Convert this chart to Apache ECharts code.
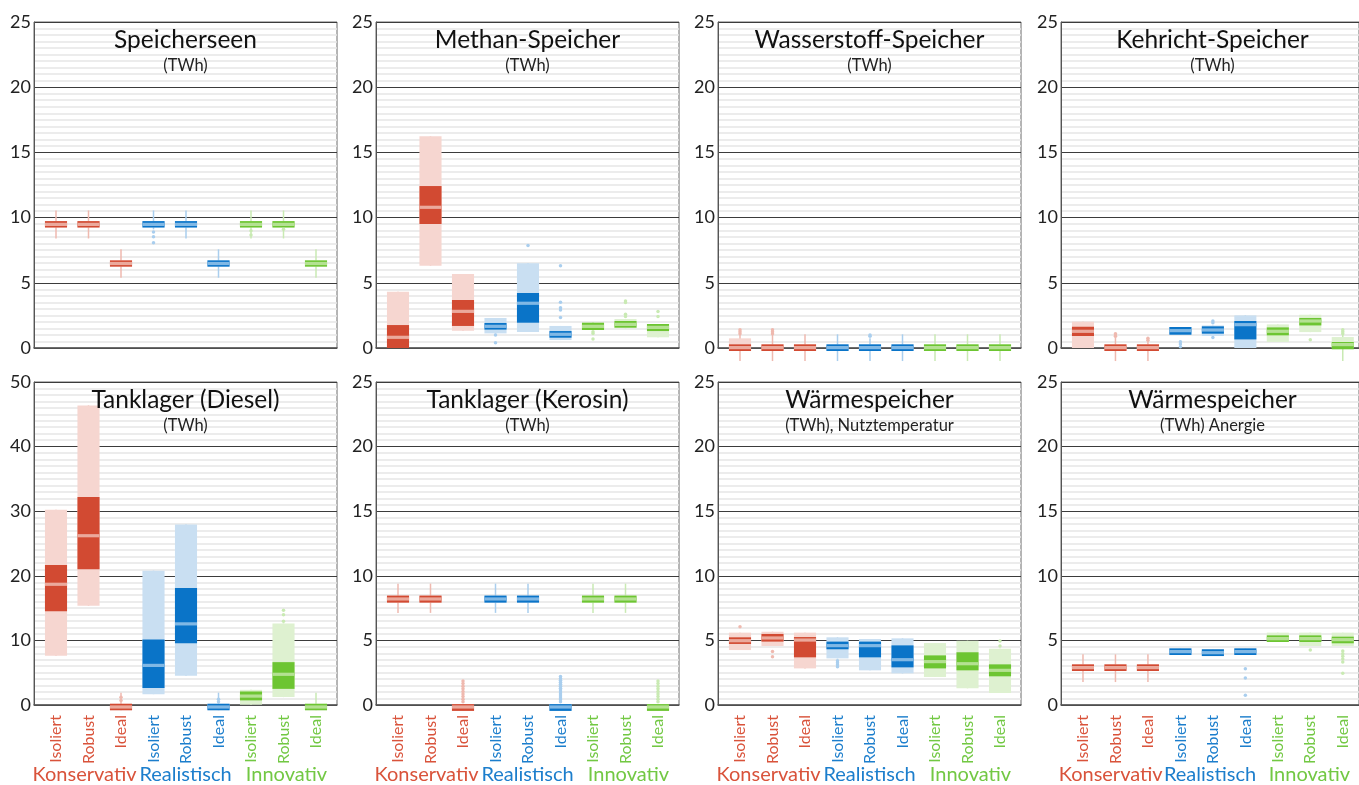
<!DOCTYPE html>
<html>
<head>
<meta charset="utf-8">
<script src="https://cdn.jsdelivr.net/npm/echarts@6/dist/echarts.min.js"></script>
<style>
html,body{margin:0;padding:0;background:#fff;}
#chart{width:1359px;height:785px;}
</style>
</head>
<body>
<div id="chart"></div>
<script>
// ---------- DATA ----------
const categories = ['Isoliert','Robust','Ideal','Isoliert','Robust','Ideal','Isoliert','Robust','Ideal'];
const groups = ['Konservativ','Realistisch','Innovativ'];
const titles = ['Speicherseen','Methan-Speicher','Wasserstoff-Speicher','Kehricht-Speicher',
                'Tanklager (Diesel)','Tanklager (Kerosin)','Wärmespeicher','Wärmespeicher'];
const subtitles = ['(TWh)','(TWh)','(TWh)','(TWh)','(TWh)','(TWh)','(TWh), Nutztemperatur','(TWh) Anergie'];
const yMax = [25,25,25,25,50,25,25,25];
const yStep = [5,5,5,5,10,5,5,5];

// rows: [whiskerLow, rangeLow, q1, median, q3, rangeHigh, whiskerHigh]
const speicherseen = [
  [8.4, 9.24, 9.24, 9.48, 9.73, 9.73, 10.55],
  [8.4, 9.24, 9.24, 9.48, 9.73, 9.73, 10.55],
  [5.39, 6.24, 6.24, 6.48, 6.72, 6.72, 7.57],
  [9.1, 9.24, 9.24, 9.48, 9.73, 9.73, 10.55],
  [8.4, 9.24, 9.24, 9.48, 9.73, 9.73, 10.55],
  [5.39, 6.24, 6.24, 6.48, 6.72, 6.72, 7.57],
  [8.4, 9.24, 9.24, 9.48, 9.73, 9.73, 10.55],
  [8.4, 9.24, 9.24, 9.48, 9.73, 9.73, 10.55],
  [5.39, 6.24, 6.24, 6.48, 6.72, 6.72, 7.57]
];
const speicherseenOut = [[3,8.9],[3,8.54],[3,8.07],[6,9.0],[6,8.67],[7,9.1]];

const methan = [
  [0, 0, 0, 0.82, 1.76, 4.32, 4.32],
  [6.31, 6.31, 9.51, 10.79, 12.42, 16.23, 16.23],
  [1.33, 1.33, 1.69, 2.81, 3.68, 5.67, 5.67],
  [1.12, 1.12, 1.41, 1.66, 1.92, 2.30, 2.30],
  [1.23, 1.23, 1.94, 3.43, 4.22, 6.49, 6.49],
  [0.61, 0.61, 0.79, 1.05, 1.30, 1.69, 1.69],
  [1.38, 1.38, 1.38, 1.66, 1.94, 1.94, 1.99],
  [1.51, 1.51, 1.56, 1.81, 2.07, 2.22, 2.22],
  [0.82, 0.82, 1.30, 1.58, 1.84, 1.84, 1.84]
];
const methanOut = [[3,1.0],[3,0.41],[4,7.87],[5,6.31],[5,3.5],[5,3.09],[5,2.91],[5,2.33],
  [6,1.25],[6,1.12],[6,0.69],[7,3.6],[7,3.48],[7,2.58],[7,2.41],[8,2.79],[8,2.41]];

const wasserstoff = [
  [-1.0, 0, -0.23, 0.03, 0.28, 0.74, 1.0],
  [-1.0, -0.23, -0.23, 0.03, 0.28, 0.28, 1.0],
  [-1.0, -0.23, -0.23, 0.03, 0.28, 0.28, 1.05],
  [-1.0, -0.23, -0.23, 0.03, 0.28, 0.28, 1.05],
  [-1.0, -0.23, -0.23, 0.03, 0.28, 0.28, 0.75],
  [-1.0, -0.23, -0.23, 0.03, 0.28, 0.28, 1.05],
  [-1.0, -0.23, -0.23, 0.03, 0.28, 0.28, 1.05],
  [-1.0, -0.23, -0.23, 0.03, 0.28, 0.28, 1.05],
  [-1.0, -0.23, -0.23, 0.03, 0.28, 0.28, 1.05]
];
const wasserstoffOut = [[0,1.1],[0,1.25],[0,1.4],[1,1.1],[1,1.25],[1,1.4],[4,0.9],[4,1.0]];

const kehricht = [
  [0, 0, 0.92, 1.28, 1.63, 2.02, 2.02],
  [-1.0, -0.23, -0.23, 0.03, 0.28, 0.28, 1.17],
  [-1.0, -0.23, -0.23, 0.03, 0.28, 0.28, 0.8],
  [1.02, 1.02, 1.02, 1.33, 1.61, 1.61, 1.61],
  [0.92, 0.92, 1.10, 1.38, 1.66, 1.73, 1.73],
  [0, 0, 0.66, 1.79, 2.07, 2.5, 2.5],
  [0.46, 0.46, 0.97, 1.28, 1.58, 1.81, 1.81],
  [1.22, 1.22, 1.73, 2.07, 2.3, 2.55, 2.55],
  [-1.0, 0, -0.1, 0.26, 0.46, 0.84, 1.43]
];
const kehrichtOut = [[1,0.9],[1,1.0],[1,1.1],[2,0.6],[2,0.75],[3,0.48],[3,0.3],[3,0.1],
  [4,2.07],[4,1.94],[4,0.8],[7,0.64],[8,1.1],[8,1.25],[8,1.4]];

const diesel = [
  [7.87, 7.87, 14.72, 18.88, 21.83, 30.36, 30.36],
  [15.58, 15.58, 21.2, 26.35, 32.3, 46.4, 46.4],
  [-0.5, -0.5, -0.5, 0, 0.5, 0.5, 2.2],
  [1.98, 1.98, 2.94, 6.4, 10.4, 20.96, 20.96],
  [4.82, 4.82, 9.8, 12.79, 18.32, 28.07, 28.07],
  [-0.5, -0.5, -0.5, 0, 0.5, 0.5, 2.2],
  [0.36, 0.36, 1.02, 1.68, 2.39, 2.64, 2.64],
  [1.52, 1.52, 2.79, 5.03, 6.9, 12.84, 12.84],
  [-0.5, -0.5, -0.5, 0, 0.5, 0.5, 2.2]
];
const dieselOut = [[2,1.0],[2,1.5],[5,0.8],[5,1.2],[7,13.2],[7,14.2],[7,14.87]];

const kerosin = [
  [7.24, 8.03, 8.03, 8.31, 8.57, 8.57, 9.49],
  [7.24, 8.03, 8.03, 8.31, 8.57, 8.57, 9.49],
  [-0.3, -0.3, -0.3, 0, 0.22, 0.22, 0.22],
  [7.24, 8.03, 8.03, 8.31, 8.57, 8.57, 9.49],
  [7.24, 8.03, 8.03, 8.31, 8.57, 8.57, 9.49],
  [-0.3, -0.3, -0.3, 0, 0.22, 0.22, 0.22],
  [7.24, 8.03, 8.03, 8.31, 8.57, 8.57, 9.49],
  [7.24, 8.03, 8.03, 8.31, 8.57, 8.57, 9.49],
  [-0.3, -0.3, -0.3, 0, 0.22, 0.22, 0.22]
];
const kerosinOut = [
  [2,0.4],[2,0.6],[2,0.8],[2,1.0],[2,1.2],[2,1.4],[2,1.6],[2,1.8],[2,2.0],
  [5,0.4],[5,0.55],[5,0.7],[5,0.85],[5,1.0],[5,1.15],[5,1.3],[5,1.45],[5,1.6],[5,1.75],[5,1.9],[5,2.05],[5,2.2],[5,2.35],
  [8,0.4],[8,0.6],[8,0.8],[8,1.0],[8,1.2],[8,1.4],[8,1.6],[8,1.8],[8,2.0]
];

const waermeNutz = [
  [4.38, 4.38, 4.85, 5.1, 5.36, 5.72, 5.72],
  [4.69, 4.69, 5.03, 5.31, 5.62, 5.79, 5.79],
  [2.97, 2.97, 3.82, 5.15, 5.38, 5.72, 5.72],
  [3.74, 3.74, 4.44, 4.72, 5.03, 5.36, 5.36],
  [2.82, 2.82, 3.82, 4.72, 5.03, 5.23, 5.23],
  [2.59, 2.59, 3.05, 3.64, 4.74, 5.28, 5.28],
  [2.31, 2.31, 2.97, 3.49, 3.97, 4.92, 4.92],
  [1.44, 1.44, 2.82, 3.33, 4.21, 5.1, 5.1],
  [1.08, 1.08, 2.36, 2.82, 3.28, 4.49, 4.49]
];
const waermeNutzOut = [[0,6.18],[1,4.26],[1,3.87],[3,3.55],[3,3.4],[3,3.25],[3,3.1],[8,5.08],[8,4.69]];

const waermeAnergie = [
  [1.92, 2.77, 2.77, 3.03, 3.28, 3.28, 4.05],
  [1.92, 2.77, 2.77, 3.03, 3.28, 3.28, 4.05],
  [1.92, 2.77, 2.77, 3.03, 3.28, 3.28, 4.05],
  [4.0, 4.0, 4.0, 4.26, 4.51, 4.51, 4.51],
  [3.92, 3.92, 3.92, 4.18, 4.44, 4.44, 4.44],
  [4.0, 4.0, 4.0, 4.26, 4.51, 4.51, 4.51],
  [5.0, 5.0, 5.0, 5.26, 5.51, 5.72, 5.72],
  [4.69, 4.69, 5.0, 5.26, 5.51, 5.72, 5.72],
  [4.69, 4.69, 4.9, 5.18, 5.41, 5.72, 5.72]
];
const waermeAnergieOut = [[5,2.95],[5,2.23],[5,0.9],[7,4.38],[8,4.31],[8,4.1],[8,3.9],[8,3.7],[8,3.46],[8,2.59]];

const panelData = [speicherseen, methan, wasserstoff, kehricht, diesel, kerosin, waermeNutz, waermeAnergie];
const panelOut = [speicherseenOut, methanOut, wasserstoffOut, kehrichtOut, dieselOut, kerosinOut, waermeNutzOut, waermeAnergieOut];

// ---------- STYLE ----------
const PAL = [
  {dark:'#D24A32', light:'#F6D6D0', med:'#EBA99C', whisk:'#EFB9AF', text:'#D9533B'},
  {dark:'#0A74C8', light:'#C9DFF2', med:'#80B8E5', whisk:'#A9CEEE', text:'#1C7ECC'},
  {dark:'#6DC532', light:'#DEF1D0', med:'#B4E192', whisk:'#C9EAB3', text:'#72C843'}
];
const FONT = 'Lato, "Open Sans", sans-serif';
const LEFTS = [34, 376, 718, 1061];
const TOPS = [22, 382];
const HEIGHTS = [326, 325];
const W = 303;

const chart = echarts.init(document.getElementById('chart'), null, {renderer:'canvas'});

function renderItem(params, api) {
  const i = api.value(0);
  const pal = PAL[Math.floor(i / 3)];
  const bw = api.size([1, 0])[0] * 0.68;
  const cx = api.coord([i, 0])[0];
  const y = v => api.coord([i, v])[1];
  const wLo = api.value(1), rLo = api.value(2), q1 = api.value(3), med = api.value(4),
        q3 = api.value(5), rHi = api.value(6), wHi = api.value(7);
  const ch = [];
  if (wHi > wLo) ch.push({type:'line', shape:{x1:cx, y1:y(wLo), x2:cx, y2:y(wHi)},
      style:{stroke:pal.whisk, lineWidth:1.5}});
  if (rHi > rLo) ch.push({type:'rect', shape:{x:cx-bw/2, y:y(rHi), width:bw, height:y(rLo)-y(rHi)},
      style:{fill:pal.light}});
  ch.push({type:'rect', shape:{x:cx-bw/2, y:y(q3), width:bw, height:Math.max(1, y(q1)-y(q3))},
      style:{fill:pal.dark}});
  ch.push({type:'rect', shape:{x:cx-bw/2, y:y(med)-1.6, width:bw, height:3.2}, style:{fill:pal.med}});
  return {type:'group', children: ch};
}

const grid = [], xAxis = [], yAxis = [], series = [], graphic = [];
for (let p = 0; p < 8; p++) {
  const row = Math.floor(p / 4), col = p % 4;
  const left = LEFTS[col], top = TOPS[row], h = HEIGHTS[row];
  grid.push({left:left, top:top, width:W, height:h, show:true, borderColor:'#6a6a6a', borderWidth:1, backgroundColor:'#fff', containLabel:false});
  grid.push({left:left + 5.75, top:top, width:292.5, height:h, containLabel:false});
  xAxis.push({type:'category', gridIndex:2*p, data:groups,
    axisTick:{show:false}, axisLine:{lineStyle:{color:'#555', width:1.5}},
    splitLine:{show:false},
    axisLabel:{show: row === 1, margin:60, fontSize:20, fontFamily:FONT, interval:0,
      color:(v, idx) => PAL[idx].text}});
  xAxis.push({type:'category', gridIndex:2*p+1, data:categories,
    axisTick:{show:false}, axisLine:{show:false}, splitLine:{show:false},
    axisLabel:{show: row === 1, rotate:90, margin:8, fontSize:16, fontFamily:FONT, interval:0,
      color:(v, idx) => PAL[Math.floor(idx / 3)].text}});
  yAxis.push({type:'value', gridIndex:2*p, min:0, max:yMax[p], interval:yStep[p],
    axisLine:{show:true, lineStyle:{color:'#555', width:1}}, axisTick:{show:false},
    axisLabel:{fontSize:18, fontFamily:FONT, color:'#222', margin:3},
    splitLine:{show:true, lineStyle:{color:'#3c3c3c', width:1}},
    minorTick:{show:false, splitNumber:10},
    minorSplitLine:{show:true, lineStyle:{color:'#e6e6e6', width:1.5}}});
  yAxis.push({type:'value', gridIndex:2*p+1, min:0, max:yMax[p], interval:yStep[p], show:false,
    splitLine:{show:false}});
  series.push({type:'custom', xAxisIndex:2*p+1, yAxisIndex:2*p+1, renderItem:renderItem, clip:false, z:3,
    data: panelData[p].map((r, i) => [i].concat(r))});
  series.push({type:'scatter', xAxisIndex:2*p+1, yAxisIndex:2*p+1, symbolSize:3.5, z:4, silent:true,
    itemStyle:{color: prm => PAL[Math.floor(prm.data[0] / 3)].whisk, opacity:1},
    data: panelOut[p]});
  const cxm = left + W / 2;
  graphic.push({type:'text', x:cxm, y:top + 18, z:10,
    style:{text:titles[p], font:'24.5px ' + FONT, fill:'#111', textAlign:'center', textVerticalAlign:'middle'}});
  graphic.push({type:'text', x:cxm, y:top + 44, z:10,
    style:{text:subtitles[p], font:'16.5px ' + FONT, fill:'#222', textAlign:'center', textVerticalAlign:'middle'}});
}

chart.setOption({
  animation:false,
  backgroundColor:'#fff',
  textStyle:{fontFamily:FONT},
  grid, xAxis, yAxis, series, graphic
});
</script>
</body>
</html>
